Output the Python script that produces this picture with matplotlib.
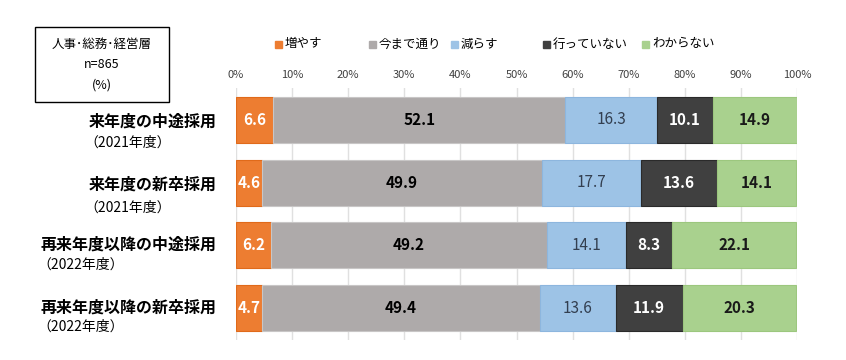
import matplotlib.pyplot as plt
from matplotlib.patches import Rectangle

plt.rcParams['font.family'] = ['Noto Sans CJK JP', 'DejaVu Sans']

categories = ["来年度の中途採用", "来年度の新卒採用", "再来年度以降の中途採用", "再来年度以降の新卒採用"]
subtitles = ["（2021年度）", "（2021年度）", "（2022年度）", "（2022年度）"]
series_names = ["増やす", "今まで通り", "減らす", "行っていない", "わからない"]
increase = [6.6, 4.6, 6.2, 4.7]
same = [52.1, 49.9, 49.2, 49.4]
decrease = [16.3, 17.7, 14.1, 13.6]
not_done = [10.1, 13.6, 8.3, 11.9]
unknown = [14.9, 14.1, 22.1, 20.3]
tick_values = list(range(0, 101, 10))

colors = ["#ED7D31", "#AEAAAA", "#9DC3E6", "#404040", "#A9D18E"]
edges = ["#E06A1A", "#C8C6C6", "#8DB6DE", "#2A2A2A", "#9CC77E"]
text_colors = ["white", "black", "#333F50", "white", "#1A1A1A"]
text_weights = ["bold", "bold", "normal", "bold", "bold"]

W, H = 846, 360
fig = plt.figure(figsize=(W / 100, H / 100), dpi=100)
ax = fig.add_axes([236 / W, (H - 340) / H, (797 - 236) / W, (340 - 88) / H])

series = [increase, same, decrease, not_done, unknown]
ypos = list(range(len(categories)))
left = [0.0] * len(categories)
for vals, c, ec, tc, tw in zip(series, colors, edges, text_colors, text_weights):
    bars = ax.barh(ypos, vals, left=left, height=0.73, color=c, edgecolor=ec, linewidth=0.8, zorder=2)
    for b, v in zip(bars, vals):
        ax.text(b.get_x() + b.get_width() / 2, b.get_y() + b.get_height() / 2, f"{v:.1f}",
                ha="center", va="center", color=tc, fontsize=11, fontweight=tw, zorder=3)
    left = [l + v for l, v in zip(left, vals)]

ax.set_xlim(0, 100)
ax.set_ylim(3.51, -0.51)
ax.set_xticks(tick_values)
ax.set_xticklabels([f"{t}%" for t in tick_values], fontsize=8, color="#404040")
ax.xaxis.tick_top()
ax.tick_params(axis="x", length=0, pad=6)
ax.set_yticks([])
ax.grid(axis="x", color="#E0E0E0", linewidth=1, zorder=0)
for s in ax.spines.values():
    s.set_visible(False)

# category labels
main_y = [122, 185, 245, 308]
sub_y = [143, 208, 265, 327]
main_x = [92, 92, 45, 45]
for cat, sub, my, sy, mx in zip(categories, subtitles, main_y, sub_y, main_x):
    fig.text(217 / W, 1 - my / H, cat, ha="right", va="center", fontsize=11.5, fontweight="bold")
    fig.text((mx - 8) / W, 1 - sy / H, sub, ha="left", va="center", fontsize=10)

# info box
fig.patches.append(Rectangle((35 / W, 1 - 102 / H), (169 - 35) / W, (102 - 27) / H,
                             transform=fig.transFigure, fill=False, edgecolor="black", linewidth=1))
fig.text(102 / W, 1 - 44 / H, "人事･総務･経営層", ha="center", va="center", fontsize=9)
fig.text(102 / W, 1 - 65 / H, "n=865", ha="center", va="center", fontsize=9)
fig.text(102 / W, 1 - 85 / H, "(%)", ha="center", va="center", fontsize=9)

# legend, placed entry by entry as in the original
legend_x = [275, 369, 451, 543, 642]
for name, c, lx in zip(series_names, colors, legend_x):
    fig.patches.append(Rectangle((lx / W, 1 - 48 / H), 7 / W, 7 / H,
                                 transform=fig.transFigure, color=c))
    fig.text((lx + 10) / W, 1 - 44 / H, name, ha="left", va="center", fontsize=9)

fig.savefig("out.png", dpi=100)
